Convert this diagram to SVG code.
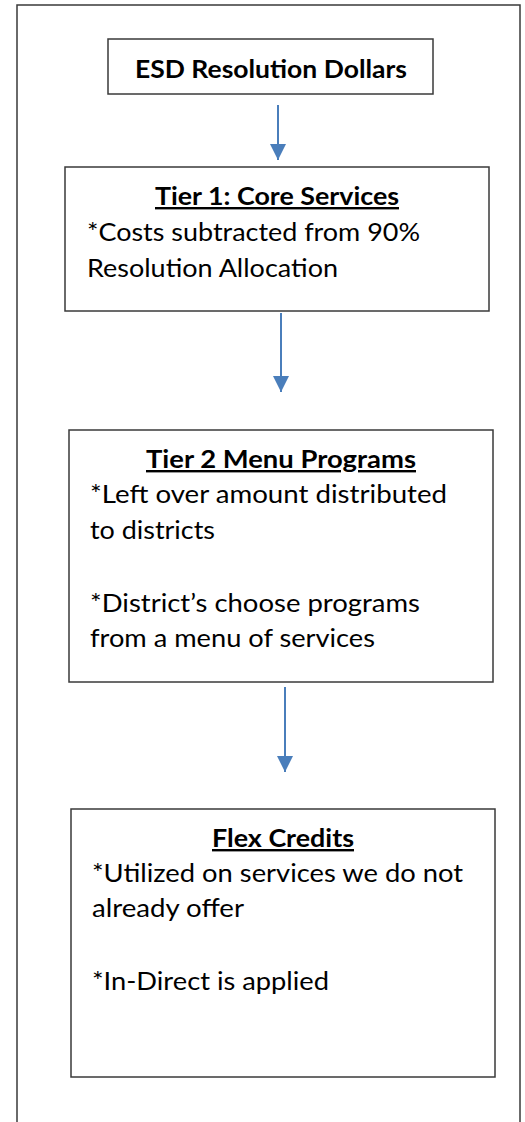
<svg xmlns="http://www.w3.org/2000/svg" width="525" height="1122" viewBox="0 0 525 1122">
<style>
.box{fill:#fff;stroke:#3a3a3a;stroke-width:1.5}
.ttl{font-family:Lato,"Open Sans","Liberation Sans",sans-serif;font-weight:bold;font-size:24px;fill:#000}
.und{text-decoration:underline}
.body{font-family:Lato,"Open Sans","Liberation Sans",sans-serif;font-size:25px;fill:#000}
.conn{stroke:#4a7ebb;stroke-width:2;fill:none}
.head{fill:#4a7ebb}
</style>
<defs>
<marker id="arr" markerWidth="8" markerHeight="8" refX="8" refY="4" orient="auto" markerUnits="strokeWidth"><path d="M0,0 L8,4 L0,8 Z" class="head"/></marker>
</defs>
<rect x="17" y="5" width="503" height="1130" fill="none" stroke="#3a3a3a" stroke-width="1.5"/>
<g id="connectors">
<line class="conn" x1="278" y1="105" x2="278" y2="160" marker-end="url(#arr)"/>
<line class="conn" x1="281" y1="313" x2="281" y2="392" marker-end="url(#arr)"/>
<line class="conn" x1="285" y1="687" x2="285" y2="772" marker-end="url(#arr)"/>
</g>
<g id="esd">
<rect class="box" x="108" y="39" width="325" height="55"/>
<text class="ttl" x="271" y="78" text-anchor="middle" textLength="272" lengthAdjust="spacingAndGlyphs">ESD Resolution Dollars</text>
</g>
<g id="tier1">
<rect class="box" x="65" y="167" width="424" height="144"/>
<text class="ttl und" x="277" y="205" text-anchor="middle" textLength="244" lengthAdjust="spacingAndGlyphs">Tier 1: Core Services</text>
<text class="body" x="87" y="241" textLength="333" lengthAdjust="spacingAndGlyphs">*Costs subtracted from 90%</text>
<text class="body" x="87" y="277" textLength="251" lengthAdjust="spacingAndGlyphs">Resolution Allocation</text>
</g>
<g id="tier2">
<rect class="box" x="69" y="430" width="424" height="252"/>
<text class="ttl und" x="281" y="468" text-anchor="middle" textLength="270" lengthAdjust="spacingAndGlyphs">Tier 2 Menu Programs</text>
<text class="body" x="90" y="503" textLength="357" lengthAdjust="spacingAndGlyphs">*Left over amount distributed</text>
<text class="body" x="90" y="539" textLength="125" lengthAdjust="spacingAndGlyphs">to districts</text>
<text class="body" x="90" y="612" textLength="330" lengthAdjust="spacingAndGlyphs">*District’s choose programs</text>
<text class="body" x="90" y="647" textLength="285" lengthAdjust="spacingAndGlyphs">from a menu of services</text>
</g>
<g id="flex">
<rect class="box" x="71" y="809" width="424" height="268"/>
<text class="ttl und" x="283" y="847" text-anchor="middle" textLength="142" lengthAdjust="spacingAndGlyphs">Flex Credits</text>
<text class="body" x="92" y="882" textLength="371" lengthAdjust="spacingAndGlyphs">*Utilized on services we do not</text>
<text class="body" x="92" y="917" textLength="152" lengthAdjust="spacingAndGlyphs">already offer</text>
<text class="body" x="92" y="990" textLength="237" lengthAdjust="spacingAndGlyphs">*In-Direct is applied</text>
</g>
</svg>
